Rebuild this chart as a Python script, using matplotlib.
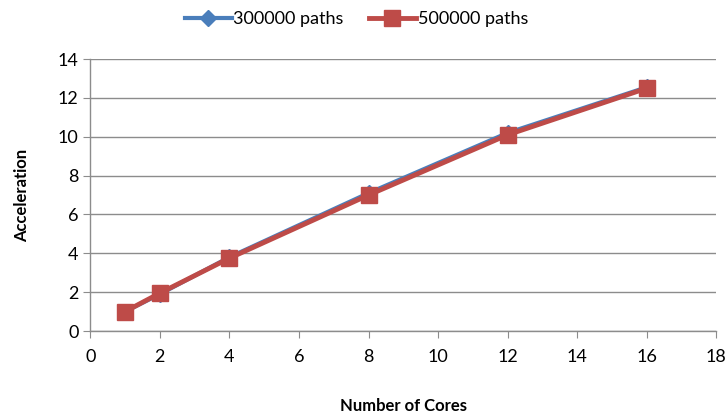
import matplotlib
matplotlib.use("Agg")
import matplotlib.pyplot as plt

cores = [1, 2, 4, 8, 12, 16]
paths_300k = [1.0, 1.9, 3.8, 7.1, 10.2, 12.55]
paths_500k = [1.0, 1.95, 3.75, 7.0, 10.1, 12.5]

plt.rcParams['font.family'] = ['Lato', 'DejaVu Sans']

fig = plt.figure(figsize=(7.28, 4.19), dpi=100)
ax = fig.add_axes([0.124, 0.21, 0.86, 0.649])

ax.plot(cores, paths_300k, color="#4a7ebb", lw=3, marker="D", ms=8,
        label="300000 paths", zorder=3)
ax.plot(cores, paths_500k, color="#be4b48", lw=3.5, marker="s", ms=11,
        label="500000 paths", zorder=4)

ax.set_xlim(0, 18)
ax.set_ylim(0, 14)
ax.set_xticks(range(0, 19, 2))
ax.set_yticks(range(0, 15, 2))
ax.yaxis.grid(True, color="#8c8c8c", lw=1)
ax.set_axisbelow(True)
for s in ["top", "right"]:
    ax.spines[s].set_visible(False)
for s in ["left", "bottom"]:
    ax.spines[s].set_color("#8c8c8c")
    ax.spines[s].set_linewidth(1)
ax.tick_params(colors="#8c8c8c", labelcolor="black", labelsize=13, length=5)
ax.tick_params(axis="x", pad=8)

ax.set_xlabel("Number of Cores", fontsize=12, fontweight="bold", labelpad=24)
ax.set_ylabel("Acceleration", fontsize=12, fontweight="bold", labelpad=20)

ax.legend(loc="lower center", bbox_to_anchor=(0.425, 1.09), ncol=2, frameon=False,
          fontsize=13, handlelength=2.6, columnspacing=1.4, handletextpad=0.1,
          borderaxespad=0)

fig.savefig("out.png", dpi=100)
